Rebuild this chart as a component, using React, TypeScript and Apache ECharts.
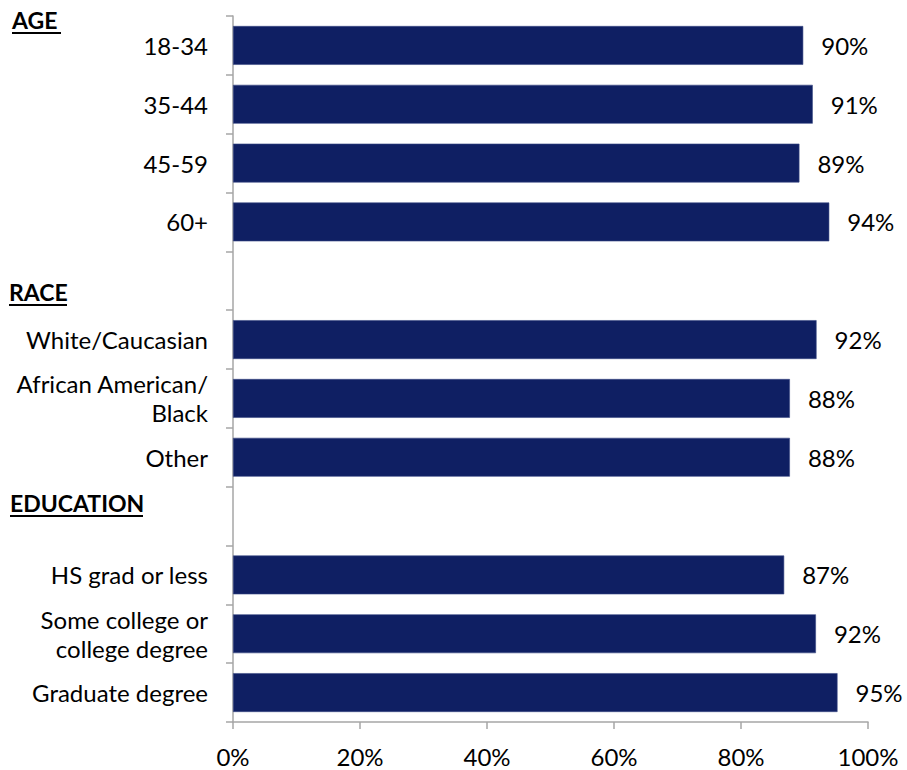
import React, { useEffect, useRef } from "react";
import * as echarts from "echarts";

const categories = [
  "18-34",
  "35-44",
  "45-59",
  "60+",
  "",
  "White/Caucasian",
  "African American/\nBlack",
  "Other",
  " ",
  "HS grad or less",
  "Some college or\ncollege degree",
  "Graduate degree",
];
const values: (number | null)[] = [89.8, 91.3, 89.2, 93.9, null, 91.9, 87.7, 87.7, null, 86.8, 91.8, 95.2];
const headings = [
  { text: "AGE", x: 12, y: 21, w: 49 },
  { text: "RACE", x: 9, y: 293, w: 58 },
  { text: "EDUCATION", x: 10, y: 504, w: 133 },
];
const xTicks = [0, 20, 40, 60, 80, 100];

const FONT = "Lato, 'Open Sans', sans-serif";
const BAR = "#0F1F63";
const AXIS = "#A6A6A6";

export default function App() {
  const ref = useRef<HTMLDivElement>(null);
  useEffect(() => {
    if (!ref.current) return;
    const chart = echarts.init(ref.current, undefined, { renderer: "svg" });
    const graphic: any[] = [];
    headings.forEach((h) => {
      graphic.push({
        type: "text",
        left: h.x,
        top: h.y - 13,
        style: {
          text: h.text,
          font: `bold 23px ${FONT}`,
          fill: "#000",
        },
      });
      graphic.push({
        type: "rect",
        shape: { x: h.x, y: h.y + 11, width: h.w, height: 2 },
        style: { fill: "#000" },
      });
    });
    chart.setOption({
      animation: false,
      backgroundColor: "#fff",
      grid: { left: 233, right: 39, top: 16, bottom: 48, containLabel: false },
      xAxis: {
        type: "value",
        min: xTicks[0],
        max: xTicks[xTicks.length - 1],
        interval: 20,
        axisLine: { show: true, lineStyle: { color: AXIS, width: 1.5 } },
        axisTick: { show: true, length: 7, lineStyle: { color: AXIS, width: 1.5 } },
        splitLine: { show: false },
        axisLabel: {
          formatter: "{value}%",
          fontFamily: FONT,
          fontSize: 24,
          color: "#000",
          margin: 22,
        },
      },
      yAxis: {
        type: "category",
        inverse: true,
        data: categories,
        axisLine: { show: true, lineStyle: { color: AXIS, width: 1.5 } },
        axisTick: { show: true, length: 7, lineStyle: { color: AXIS, width: 1.5 } },
        axisLabel: {
          fontFamily: FONT,
          fontSize: 24,
          color: "#000",
          margin: 25,
          lineHeight: 29,
          align: "right",
        },
      },
      series: [
        {
          type: "bar",
          data: values,
          barCategoryGap: "34%",
          itemStyle: { color: BAR, borderColor: "#3A4A85", borderWidth: 0.6 },
          label: {
            show: true,
            position: "right",
            distance: 18,
            fontFamily: FONT,
            fontSize: 24,
            color: "#000",
            formatter: (p: any) => (p.value == null ? "" : Math.round(p.value) + "%"),
          },
        },
      ],
      graphic,
    });
    return () => chart.dispose();
  }, []);
  return (
    <div
      ref={ref}
      style={{ position: "fixed", left: 0, top: 0, width: 907, height: 770, background: "#fff" }}
    />
  );
}
